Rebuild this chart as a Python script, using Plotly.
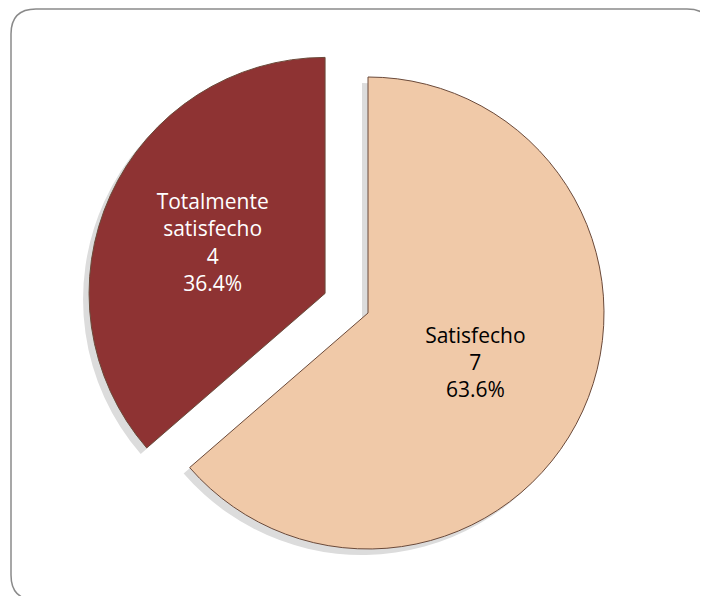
import plotly.graph_objects as go

labels = ["Satisfecho", "Totalmente<br>satisfecho"]
values = [7, 4]
colors = ["#F0C9A8", "#8E3333"]
text_colors = ["#000000", "#FFFFFF"]
pulls = [0, 0.2]

W, H = 708, 596
OFF = 8  # page body margin
cx, cy, r = 368 - OFF, 313 - OFF, 236
box = 2 * r * (1 + max(pulls))


def dom(dx=0, dy=0):
    return dict(x=[(cx + dx - box / 2) / W, (cx + dx + box / 2) / W],
                y=[(H - (cy + dy + box / 2)) / H, (H - (cy + dy - box / 2)) / H])


fig = go.Figure()
# soft shadow
fig.add_trace(go.Pie(
    labels=labels, values=values, sort=False, direction="clockwise", rotation=0,
    pull=pulls, marker=dict(colors=["#dcdcdc", "#dcdcdc"], line=dict(width=0)),
    textinfo="none", hoverinfo="skip", showlegend=False, domain=dom(-6, 6),
))
fig.add_trace(go.Pie(
    labels=labels, values=values, sort=False, direction="clockwise", rotation=0,
    pull=pulls,
    marker=dict(colors=colors, line=dict(color="#6b4a3a", width=1)),
    texttemplate="%{label}<br>%{value}<br>%{percent:.1%}",
    textposition="inside", insidetextorientation="horizontal",
    textfont=dict(family="Open Sans, Liberation Sans, sans-serif", size=21, color=text_colors),
    hoverinfo="label+value+percent",
    showlegend=False,
    domain=dom(),
))

fig.update_layout(
    width=W, height=H,
    margin=dict(l=0, r=0, t=0, b=0),
    paper_bgcolor="white", plot_bgcolor="white",
)

# rounded border box (pixels converted to paper coords)
x0, y0, x1, y1, rad = 11 - OFF, 9 - OFF, 712 - OFF, 600 - OFF, 25
def px(x): return x / W
def py(y): return 1 - y / H
path = (f"M {px(x0+rad)},{py(y0)} L {px(x1-rad)},{py(y0)} "
        f"Q {px(x1)},{py(y0)} {px(x1)},{py(y0+rad)} "
        f"L {px(x1)},{py(y1-rad)} Q {px(x1)},{py(y1)} {px(x1-rad)},{py(y1)} "
        f"L {px(x0+rad)},{py(y1)} Q {px(x0)},{py(y1)} {px(x0)},{py(y1-rad)} "
        f"L {px(x0)},{py(y0+rad)} Q {px(x0)},{py(y0)} {px(x0+rad)},{py(y0)} Z")
fig.add_shape(type="path", xref="paper", yref="paper", path=path,
              line=dict(color="#8a8a8a", width=1.5), layer="below")

fig.write_html("out.html")
